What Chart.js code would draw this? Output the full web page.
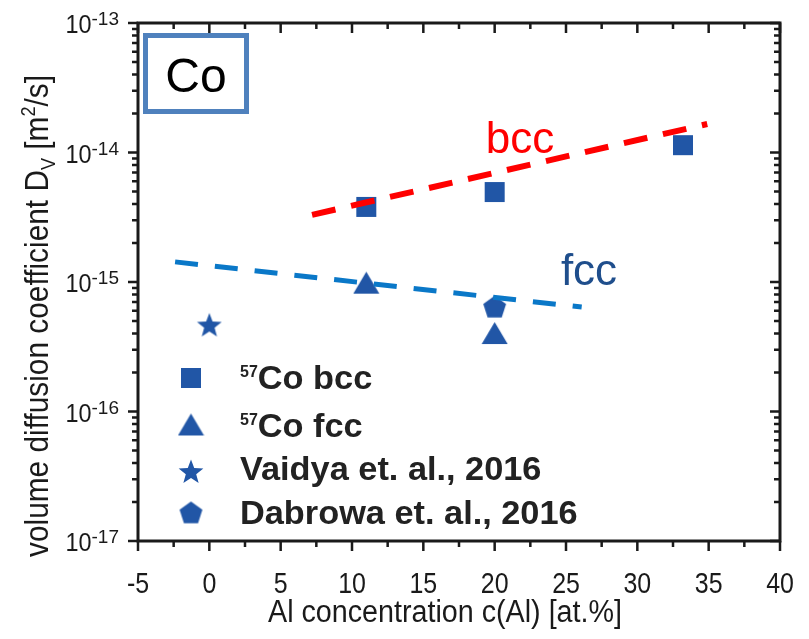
<!DOCTYPE html>
<html>
<head>
<meta charset="utf-8">
<script src="https://cdn.jsdelivr.net/npm/chart.js"></script>
<style>
  html, body { margin: 0; padding: 0; background: #fff; }
  #wrap { width: 809px; height: 639px; }
</style>
</head>
<body>
<div id="wrap"><canvas id="chart" width="809" height="639"></canvas></div>
<script>
// ---- data ----
const bccX = [11, 20, 33.2];
const bccY = [3.8e-15, 4.95e-15, 1.14e-14];
const fccX = [11, 20];
const fccY = [9.8e-16, 4.0e-16];
const vaidyaX = [0];
const vaidyaY = [4.7e-16];
const dabrowaX = [20];
const dabrowaY = [6.5e-16];
// fitted dashed lines (end points)
const bccFitX = [7.2, 34.9];
const bccFitY = [3.3e-15, 1.66e-14];
const fccFitX = [-2.4, 26.1];
const fccFitY = [1.43e-15, 6.4e-16];

const xTicks = [-5, 0, 5, 10, 15, 20, 25, 30, 35, 40];
const yTickExp = [-13, -14, -15, -16, -17];
const legendLabels = ['Co bcc', 'Co fcc', 'Vaidya et. al., 2016', 'Dabrowa et. al., 2016'];

const markerBlue = '#2156a6';
const sans = '"Liberation Sans", Arial, sans-serif';

function pts(xs, ys) { return xs.map((x, i) => ({x: x, y: ys[i]})); }

// custom marker images
function makeMarker(kind, size) {
  const c = document.createElement('canvas');
  c.width = size; c.height = size;
  const g = c.getContext('2d');
  g.fillStyle = markerBlue;
  const r = size / 2;
  g.beginPath();
  if (kind === 'star') {
    for (let i = 0; i < 10; i++) {
      const rad = i % 2 === 0 ? r : r * 0.42;
      const a = -Math.PI / 2 + i * Math.PI / 5;
      g.lineTo(r + rad * Math.cos(a), r + rad * Math.sin(a) + 1.5);
    }
  } else if (kind === 'pentagon') {
    for (let i = 0; i < 5; i++) {
      const a = -Math.PI / 2 + i * 2 * Math.PI / 5;
      g.lineTo(r + (r - 0.5) * Math.cos(a), r + (r - 0.5) * Math.sin(a) + 1.5);
    }
  } else if (kind === 'triangle') {
    g.moveTo(r, 2);
    g.lineTo(size - 0.5, size - 3);
    g.lineTo(0.5, size - 3);
  } else {
    g.rect(1, 1, size - 2, size - 2);
  }
  g.closePath();
  g.fill();
  return c;
}
const sqImg = makeMarker('square', 22);
const triImg = makeMarker('triangle', 27);
const starImg = makeMarker('star', 26);
const pentImg = makeMarker('pentagon', 25);

// text drawn with a horizontal squeeze (narrow look)
function sText(ctx, text, x, y, font, sx, align) {
  ctx.save();
  ctx.font = font;
  const w = ctx.measureText(text).width * sx;
  let x0 = x;
  if (align === 'center') x0 = x - w / 2;
  if (align === 'right') x0 = x - w;
  ctx.translate(x0, y);
  ctx.scale(sx, 1);
  ctx.textAlign = 'left';
  ctx.textBaseline = 'alphabetic';
  ctx.fillText(text, 0, 0);
  ctx.restore();
  return w;
}

const decor = {
  id: 'decor',
  afterDraw(chart) {
    const ctx = chart.ctx;
    const xs = chart.scales.x, ys = chart.scales.y;
    const L = chart.chartArea.left, R = chart.chartArea.right;
    const T = chart.chartArea.top, B = chart.chartArea.bottom;
    ctx.save();
    ctx.strokeStyle = '#1a1a1a';
    ctx.fillStyle = '#1a1a1a';
    ctx.lineWidth = 3;
    ctx.strokeRect(L, T, R - L, B - T);

    // x ticks
    ctx.lineWidth = 2.5;
    for (let v = -5; v <= 40; v += 2.5) {
      const px = xs.getPixelForValue(v);
      const major = Math.abs(v % 5) < 1e-9;
      const len = major ? 10 : 6;
      ctx.beginPath();
      ctx.moveTo(px, B); ctx.lineTo(px, B + len);
      ctx.moveTo(px, T); ctx.lineTo(px, T + len);
      ctx.stroke();
    }
    // y ticks
    for (let e = -17; e <= -13; e++) {
      for (let m = 1; m <= 9; m++) {
        if (e === -13 && m > 1) break;
        const v = m * Math.pow(10, e);
        const py = ys.getPixelForValue(v);
        const len = m === 1 ? 10 : 6;
        ctx.beginPath();
        ctx.moveTo(L, py); ctx.lineTo(L - len, py);
        ctx.moveTo(R, py); ctx.lineTo(R - len, py);
        ctx.stroke();
      }
    }
    // x tick labels
    xTicks.forEach(v => {
      sText(ctx, String(v), xs.getPixelForValue(v), 593, '29px ' + sans, 0.86, 'center');
    });
    // y tick labels
    yTickExp.forEach(e => {
      const py = ys.getPixelForValue(Math.pow(10, e));
      const ws = sText(ctx, String(e), 119, py + 2, '19px ' + sans, 1.0, 'right');
      sText(ctx, '10', 119 - ws, py + 10, '26px ' + sans, 0.9, 'right');
    });
    // x axis title
    ctx.font = '31px ' + sans;
    const xt = 'Al concentration c(Al) [at.%]';
    const xsx = 354 / ctx.measureText(xt).width;
    sText(ctx, xt, (L + R) / 2 - 14, 622, '31px ' + sans, xsx, 'center');

    // y axis title (rotated)
    ctx.save();
    ctx.translate(48, 316);
    ctx.rotate(-Math.PI / 2);
    const f1 = '33px ' + sans, f2 = '20px ' + sans;
    const parts = [
      ['volume diffusion coefficient D', f1, 0],
      ['V', f2, 7],
      [' [m', f1, 0],
      ['2', f2, -13],
      ['/s]', f1, 0]
    ];
    let tot = 0;
    parts.forEach(p => { ctx.font = p[1]; tot += ctx.measureText(p[0]).width; });
    const ysx = 482 / tot;
    let x0 = -482 / 2;
    parts.forEach(p => {
      x0 += sText(ctx, p[0], x0, p[2], p[1], ysx, 'left');
    });
    ctx.restore();

    // Co box
    ctx.strokeStyle = '#4f81bd';
    ctx.lineWidth = 5;
    ctx.strokeRect(145.5, 35.5, 101, 76);
    ctx.fillStyle = '#000';
    sText(ctx, 'Co', 196, 92, '48px ' + sans, 1, 'center');

    // bcc / fcc labels
    ctx.fillStyle = '#ff0000';
    sText(ctx, 'bcc', 520, 153, '44px ' + sans, 1, 'center');
    ctx.fillStyle = '#1f4e8c';
    sText(ctx, 'fcc', 589, 285, '44px ' + sans, 1, 'center');

    // legend
    const imgs = [sqImg, triImg, starImg, pentImg];
    const rows = [378, 425, 471, 512];
    imgs.forEach((im, i) => {
      ctx.drawImage(im, 191 - im.width / 2, rows[i] - im.height / 2);
    });
    ctx.fillStyle = '#222';
    const bold = 'bold 33px ' + sans;
    const supB = 'bold 16px ' + sans;
    const baselines = [389, 437, 480, 524];
    for (let i = 0; i < 4; i++) {
      const by = baselines[i];
      let x = 240;
      if (i < 2) {
        x += sText(ctx, '57', x, by - 12, supB, 1, 'left');
      }
      sText(ctx, legendLabels[i], x, by, bold, 1.04, 'left');
    }
    ctx.restore();
  }
};

new Chart(document.getElementById('chart'), {
  type: 'scatter',
  data: {
    datasets: [
      { label: 'bcc fit', type: 'line', data: pts(bccFitX, bccFitY), borderColor: '#ff0000',
        borderWidth: 6, borderDash: [24, 16], pointRadius: 0, fill: false },
      { label: 'fcc fit', type: 'line', data: pts(fccFitX, fccFitY), borderColor: '#0a78c8',
        borderWidth: 5, borderDash: [23, 17], pointRadius: 0, fill: false },
      { label: '57Co bcc', data: pts(bccX, bccY), pointStyle: sqImg },
      { label: '57Co fcc', data: pts(fccX, fccY), pointStyle: triImg },
      { label: 'Vaidya et. al., 2016', data: pts(vaidyaX, vaidyaY), pointStyle: starImg },
      { label: 'Dabrowa et. al., 2016', data: pts(dabrowaX, dabrowaY), pointStyle: pentImg }
    ]
  },
  options: {
    responsive: false,
    animation: false,
    layout: { padding: { left: 138, top: 23, right: 29, bottom: 98 } },
    plugins: { legend: { display: false }, tooltip: { enabled: false } },
    scales: {
      x: { type: 'linear', min: -5, max: 40, display: false },
      y: { type: 'logarithmic', min: 1e-17, max: 1e-13, display: false }
    }
  },
  plugins: [decor]
});
</script>
</body>
</html>
